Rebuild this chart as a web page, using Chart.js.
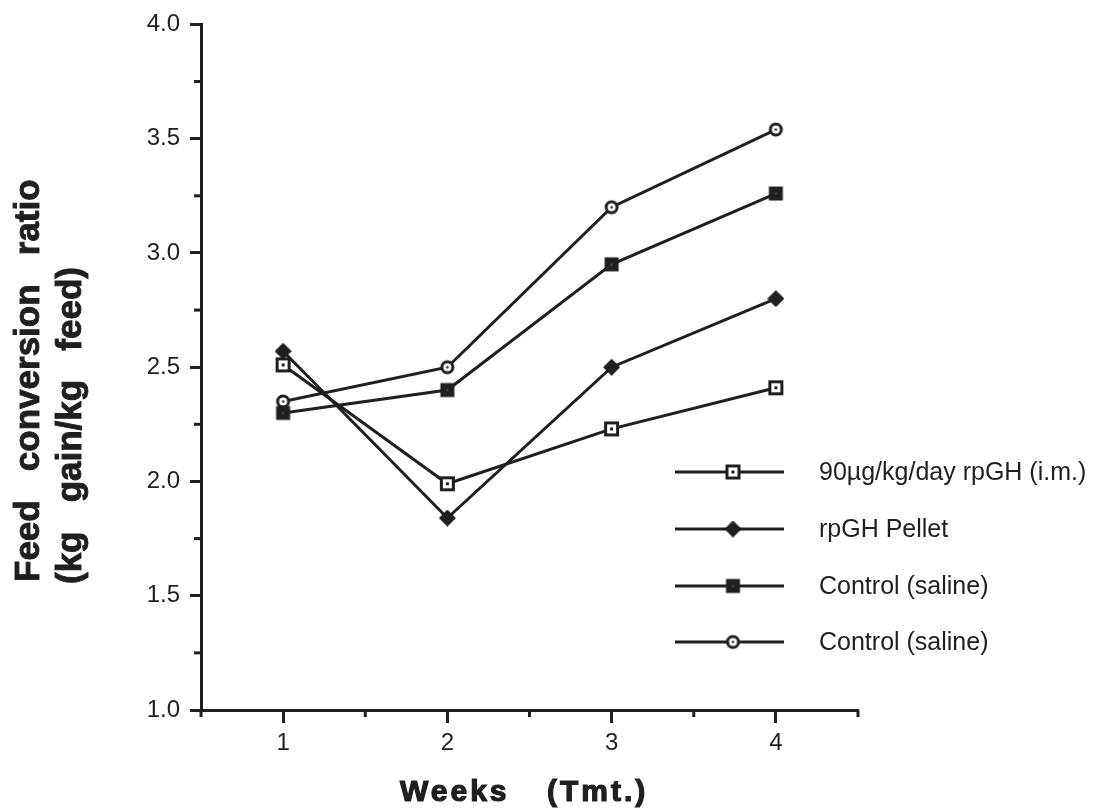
<!DOCTYPE html>
<html>
<head>
<meta charset="utf-8">
<script src="https://cdn.jsdelivr.net/npm/chart.js@4"></script>
<style>
    body { margin: 0; background: #fff; }
    canvas { display: block; }
</style>
</head>
<body>
<canvas id="chart" width="1098" height="811"></canvas>
<script>
// values
const weeks = [1, 2, 3, 4];
const imRpGH = [2.51, 1.99, 2.23, 2.41];
const pellet = [2.57, 1.84, 2.50, 2.80];
const controlSq = [2.30, 2.40, 2.95, 3.26];
const controlCirc = [2.35, 2.50, 3.20, 3.54];
const seriesNames = ['90µg/kg/day rpGH (i.m.)', 'rpGH Pellet', 'Control (saline)', 'Control (saline)'];
const yTitleLines = ['Feed   conversion   ratio', '(kg   gain/kg   feed)'];
const xTitleWords = ['Weeks', '(Tmt.)'];

const INK = '#1f1f1f';
const FONT = '"Liberation Sans", Arial, Helvetica, sans-serif';

function marker(kind) {
    const c = document.createElement('canvas');
    c.width = 17; c.height = 17;
    const g = c.getContext('2d');
    g.fillStyle = INK;
    g.strokeStyle = INK;
    if (kind === 'openSquare') {
        g.fillStyle = '#fff';
        g.fillRect(2, 2, 13, 13);
        g.lineWidth = 3;
        g.strokeRect(2.5, 2.5, 12, 12);
        g.fillStyle = INK;
        g.fillRect(7, 7, 3, 3);
    } else if (kind === 'square') {
        g.fillRect(1.5, 1.5, 14, 14);
        g.fillStyle = '#555';
        g.fillRect(7.5, 7.5, 2, 2);
    } else if (kind === 'diamond') {
        g.beginPath();
        g.moveTo(8.5, 1); g.lineTo(16, 8.5); g.lineTo(8.5, 16); g.lineTo(1, 8.5);
        g.closePath();
        g.lineJoin = 'round';
        g.lineWidth = 1.5;
        g.fill(); g.stroke();
    } else {
        g.beginPath();
        g.arc(8.5, 8.5, 5.5, 0, Math.PI * 2);
        g.fillStyle = '#fff';
        g.fill();
        g.lineWidth = 3;
        g.stroke();
        g.fillStyle = INK;
        g.beginPath();
        g.arc(8.5, 8.5, 1.2, 0, Math.PI * 2);
        g.fill();
    }
    return c;
}

const markers = [marker('openSquare'), marker('diamond'), marker('square'), marker('circle')];
const seriesValues = [imRpGH, pellet, controlSq, controlCirc];

const datasets = seriesValues.map((vals, i) => ({
    label: seriesNames[i],
    data: weeks.map((w, j) => ({ x: w, y: vals[j] })),
    borderColor: INK,
    borderWidth: 3,
    pointStyle: markers[i],
    pointRadius: 8,
    tension: 0,
    fill: false
}));

const isMajorY = v => Math.abs(v * 2 - Math.round(v * 2)) < 1e-6;
const isMajorX = v => Math.abs(v - Math.round(v)) < 1e-6;

// heavy title text, like the printed original
function heavyText(ctx, text, x, y) {
    ctx.fillText(text, x, y);
    ctx.strokeText(text, x, y);
}

// short minor ticks, axis titles and the legend
const decorations = {
    id: 'decorations',
    afterDraw(chart) {
        const { ctx, scales: { x, y } } = chart;
        ctx.save();
        ctx.strokeStyle = INK;
        ctx.lineWidth = 3;
        y.ticks.forEach(t => {
            if (isMajorY(t.value)) return;
            const py = y.getPixelForValue(t.value);
            ctx.beginPath(); ctx.moveTo(x.left - 7, py); ctx.lineTo(x.left, py); ctx.stroke();
        });
        x.ticks.forEach(t => {
            if (isMajorX(t.value)) return;
            const px = x.getPixelForValue(t.value);
            ctx.beginPath(); ctx.moveTo(px, y.bottom); ctx.lineTo(px, y.bottom + 7); ctx.stroke();
        });

        // y title, two lines left aligned at the bottom
        ctx.save();
        ctx.fillStyle = INK;
        ctx.lineWidth = 0.9;
        ctx.font = 'bold 35px ' + FONT;
        ctx.textAlign = 'left';
        ctx.textBaseline = 'alphabetic';
        [[38.5, 582], [81, 584]].forEach(([bx, by], i) => {
            ctx.save();
            ctx.translate(bx, by);
            ctx.rotate(-Math.PI / 2);
            heavyText(ctx, yTitleLines[i], 0, 0);
            ctx.restore();
        });

        // x title, letter spaced
        ctx.font = 'bold 30px ' + FONT;
        ctx.letterSpacing = '3px';
        ctx.lineWidth = 1.2;
        heavyText(ctx, xTitleWords[0], 400, 801);
        heavyText(ctx, xTitleWords[1], 547, 801);
        ctx.restore();

        // legend
        const rows = [472, 529, 586, 642];
        ctx.fillStyle = INK;
        ctx.font = '25px ' + FONT;
        ctx.textBaseline = 'middle';
        chart.data.datasets.forEach((ds, i) => {
            const ry = rows[i];
            ctx.beginPath(); ctx.moveTo(675, ry); ctx.lineTo(784, ry); ctx.stroke();
            const m = markers[i];
            ctx.drawImage(m, 733 - m.width / 2, ry - m.height / 2);
            ctx.fillText(ds.label, 819, ry + 1);
        });
        ctx.restore();
    }
};

new Chart(document.getElementById('chart').getContext('2d'), {
    type: 'line',
    data: { datasets },
    options: {
        responsive: false,
        animation: false,
        layout: { padding: { top: 20, right: 240, bottom: 0, left: 0 } },
        plugins: { legend: { display: false }, tooltip: { enabled: false } },
        scales: {
            x: {
                type: 'linear',
                min: 0.5,
                max: 4.5,
                afterFit: s => { s.height = 101; },
                ticks: {
                    stepSize: 0.5,
                    color: INK,
                    font: { family: FONT, size: 24 },
                    padding: 6,
                    maxRotation: 0,
                    callback: v => isMajorX(v) ? String(v) : ''
                },
                grid: {
                    drawOnChartArea: false,
                    tickLength: 13,
                    tickWidth: 3,
                    tickColor: c => isMajorX(c.tick.value) ? INK : 'rgba(0,0,0,0)'
                },
                border: { color: INK, width: 3 }
            },
            y: {
                min: 1.0,
                max: 4.0,
                afterFit: s => { s.width = 201; },
                ticks: {
                    stepSize: 0.25,
                    color: INK,
                    font: { family: FONT, size: 24 },
                    padding: 10,
                    callback: v => isMajorY(v) ? v.toFixed(1) : ''
                },
                grid: {
                    drawOnChartArea: false,
                    tickLength: 11,
                    tickWidth: 3,
                    tickColor: c => isMajorY(c.tick.value) ? INK : 'rgba(0,0,0,0)'
                },
                border: { color: INK, width: 3 }
            }
        }
    },
    plugins: [decorations]
});
</script>
</body>
</html>
